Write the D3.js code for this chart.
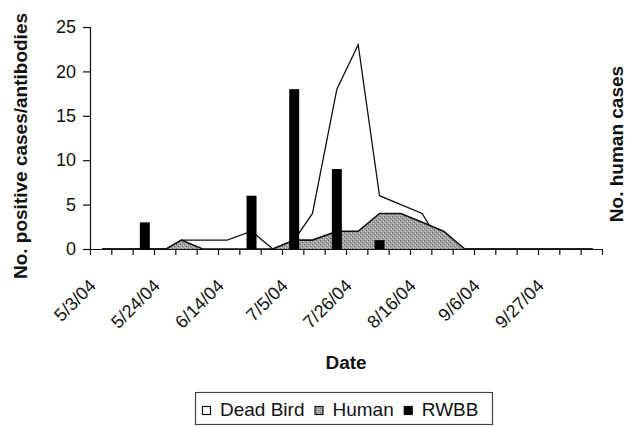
<!DOCTYPE html>
<html>
<head>
<meta charset="utf-8">
<script src="https://cdn.jsdelivr.net/npm/d3@7"></script>
<style>
  body { margin: 0; background: #fff; }
  svg { display: block; font-family: "Liberation Sans", Arial, sans-serif; }
</style>
</head>
<body>
<div id="app"></div>
<script>
const width = 627
const height = 426

// weekly surveillance dates (dead birds + human cases share them)
const dates = ["5/7/04", "5/14/04", "5/21/04", "5/28/04", "6/2/04", "6/9/04", "6/17/04", "6/25/04",
  "7/2/04", "7/9/04", "7/15/04", "7/23/04", "7/30/04", "8/6/04", "8/13/04", "8/20/04", "8/27/04",
  "9/3/04", "9/10/04", "9/17/04", "9/24/04", "10/1/04", "10/8/04", "10/15/04"]
const deadBird = [0, 0, 0, 0, 1, 1, 1, 2, 0, 1, 4, 18, 23, 6, 5, 4, 0, 0, 0, 0, 0, 0, 0, 0]
const human = [0, 0, 0, 0, 1, 0, 0, 0, 0, 1, 1, 2, 2, 4, 4, 3, 2, 0, 0, 0, 0, 0, 0, 0]

// RWBB positives (columns)
const rwbbDates = ["5/21/04", "6/25/04", "7/9/04", "7/23/04", "8/6/04"]
const rwbb = [3, 6, 18, 9, 1]

const xLabels = ["5/3/04", "5/24/04", "6/14/04", "7/5/04", "7/26/04", "8/16/04", "9/6/04", "9/27/04"]
const yTicks = [0, 5, 10, 15, 20, 25]
const seriesNames = ["Dead Bird", "Human", "RWBB"]

const parse = d3.timeParse("%m/%d/%y")
const start = parse("5/3/04")
const end = parse("10/18/04")

const x = d3.scaleTime().domain([start, end]).range([90, 602])
const y = d3.scaleLinear().domain([0, 25]).range([249, 27])

const svg = d3.select('#app').append('svg')
    .attr('width', width)
    .attr('height', height)

// stippled grey fill for the human area
const pat = svg.append('defs').append('pattern')
    .attr('id', 'stipple')
    .attr('width', 4).attr('height', 4)
    .attr('patternUnits', 'userSpaceOnUse')
pat.append('rect').attr('width', 4).attr('height', 4).attr('fill', '#a3a3a3')
pat.append('rect').attr('x', 0).attr('y', 0).attr('width', 1).attr('height', 1).attr('fill', '#6a6a6a')
pat.append('rect').attr('x', 2).attr('y', 2).attr('width', 1).attr('height', 1).attr('fill', '#6a6a6a')
pat.append('rect').attr('x', 1).attr('y', 3).attr('width', 1).attr('height', 1).attr('fill', '#cfcfcf')
pat.append('rect').attr('x', 3).attr('y', 1).attr('width', 1).attr('height', 1).attr('fill', '#cfcfcf')

const birdData = dates.map((d, i) => ({date: parse(d), v: deadBird[i]}))
const humanData = dates.map((d, i) => ({date: parse(d), v: human[i]}))
const barData = rwbbDates.map((d, i) => ({date: parse(d), v: rwbb[i]}))

const area = d3.area()
    .x(d => x(d.date))
    .y0(y(0))
    .y1(d => y(d.v))
const topLine = d3.line()
    .x(d => x(d.date))
    .y(d => y(d.v))

// dead bird: white area with black outline
svg.append('path')
    .datum(birdData)
    .attr('d', area)
    .attr('fill', '#fff')
svg.append('path')
    .datum(birdData)
    .attr('d', topLine)
    .attr('fill', 'none')
    .attr('stroke', '#111')
    .attr('stroke-width', 1.3)

// human cases
svg.append('path')
    .datum(humanData)
    .attr('d', area)
    .attr('fill', 'url(#stipple)')
svg.append('path')
    .datum(humanData)
    .attr('d', topLine)
    .attr('fill', 'none')
    .attr('stroke', '#111')
    .attr('stroke-width', 1.6)

// RWBB columns
const barW = 10
svg.selectAll('rect.bar')
    .data(barData)
    .join('rect')
    .attr('class', 'bar')
    .attr('x', d => x(d.date) - barW / 2)
    .attr('width', barW)
    .attr('y', d => y(d.v))
    .attr('height', d => y(0) - y(d.v))
    .attr('fill', '#000')

// axes
const yAxis = svg.append('g')
    .attr('transform', `translate(${x.range()[0]},0)`)
    .call(d3.axisLeft(y).tickValues(yTicks).tickSize(7).tickPadding(7))
yAxis.selectAll('text').attr('font-size', 18).attr('fill', '#111').attr('font-family', null)
yAxis.selectAll('line, path').attr('stroke', '#111').attr('stroke-width', 1.2)

const weeks = d3.timeMonday.range(start, d3.timeDay.offset(end, 1))
const xAxis = svg.append('g')
    .attr('transform', `translate(0,${y(0)})`)
    .call(d3.axisBottom(x).tickValues(weeks).tickSize(6).tickSizeOuter(0).tickFormat(''))
xAxis.selectAll('line, path').attr('stroke', '#111').attr('stroke-width', 1.2)

svg.append('g')
    .selectAll('text')
    .data(xLabels)
    .join('text')
    .attr('transform', d => `translate(${x(parse(d)) + 7},287) rotate(-45)`)
    .attr('text-anchor', 'end')
    .attr('font-size', 18)
    .attr('fill', '#111')
    .text(d => d)

// axis titles
svg.append('text')
    .attr('x', 346).attr('y', 369)
    .attr('text-anchor', 'middle')
    .attr('font-size', 19)
    .attr('font-weight', 'bold')
    .attr('fill', '#111')
    .text('Date')

svg.append('text')
    .attr('transform', 'translate(27,146) rotate(-90)')
    .attr('text-anchor', 'middle')
    .attr('font-size', 19)
    .attr('font-weight', 'bold')
    .attr('fill', '#111')
    .text('No. positive cases/antibodies')

svg.append('text')
    .attr('transform', 'translate(623,144) rotate(-90)')
    .attr('text-anchor', 'middle')
    .attr('font-size', 19)
    .attr('font-weight', 'bold')
    .attr('fill', '#111')
    .text('No. human cases')

// legend
const legend = svg.append('g')
legend.append('rect')
    .attr('x', 195.5).attr('y', 392.5)
    .attr('width', 297).attr('height', 32)
    .attr('fill', '#fff')
    .attr('stroke', '#444')
    .attr('stroke-width', 1.2)

const swatchFill = ['#fff', 'url(#stipple)', '#000']
let lx = 202
seriesNames.forEach((name, i) => {
  legend.append('rect')
      .attr('x', lx + 0.5).attr('y', 406.5)
      .attr('width', 8).attr('height', 8)
      .attr('fill', swatchFill[i])
      .attr('stroke', '#111')
      .attr('stroke-width', 1.2)
  const t = legend.append('text')
      .attr('x', lx + 18).attr('y', 415.5)
      .attr('font-size', 19)
      .attr('fill', '#111')
      .text(name)
  lx = lx + 18 + t.node().getComputedTextLength() + 10
})
</script>
</body>
</html>
